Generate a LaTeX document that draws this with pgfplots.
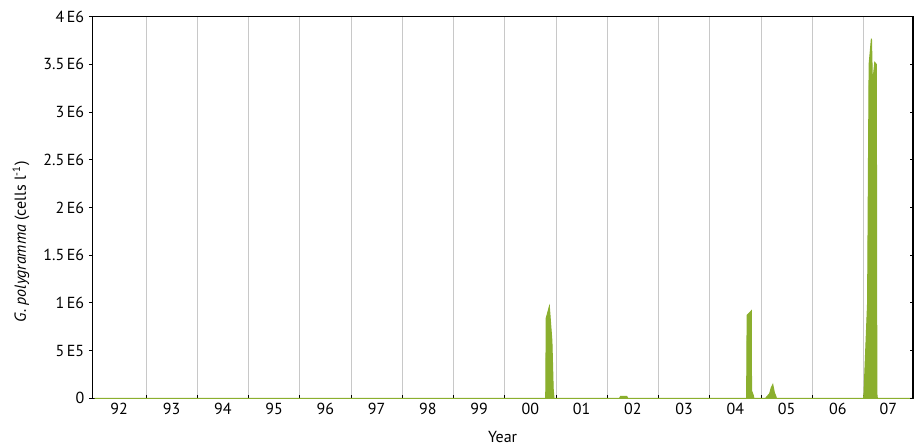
\documentclass[border=0pt]{standalone}
\usepackage{fontspec}
\setmainfont{PT Sans}
\usepackage{pgfplots}
\pgfplotsset{compat=1.18}
\definecolor{gpgreen}{RGB}{139,175,46}
\definecolor{gridgray}{RGB}{200,200,200}

\begin{document}
\begin{tikzpicture}
\begin{axis}[
    name=ax,
    scale only axis,
    width=615.5pt,
    height=286.2pt,
    font=\fontsize{12}{14}\selectfont,
    xmin=1991.952, xmax=2007.966,
    ymin=0, ymax=4e6,
    scaled y ticks=false,
    xtick={1993,...,2007},
    xticklabels={},
    xtick pos=lower,
    xtick align=inside,
    extra x ticks={1992.476,1993.5,1994.5,1995.5,1996.5,1997.5,1998.5,1999.5,2000.5,2001.5,2002.5,2003.5,2004.5,2005.5,2006.5,2007.483},
    extra x tick labels={92,93,94,95,96,97,98,99,00,01,02,03,04,05,06,07},
    extra x tick style={major tick length=0pt, grid=none},
    xmajorgrids=true,
    grid style={gridgray, line width=0.6pt},
    ytick={0,5e5,1e6,1.5e6,2e6,2.5e6,3e6,3.5e6,4e6},
    yticklabels={0,5\,E5,1\,E6,1.5\,E6,2\,E6,2.5\,E6,3\,E6,3.5\,E6,4\,E6},
    ytick pos=left,
    ytick align=outside,
    major tick length=2.5pt,
    tick style={black, line width=0.6pt},
    axis line style={line width=0.8pt},
    xlabel={Year},
    xlabel style={at={(axis description cs:0.5,0)}, anchor=center, yshift=-29pt},
    ylabel={\textit{G. polygramma} (cells l\textsuperscript{-1})},
    ylabel style={at={(axis description cs:0,0.41)}, anchor=center, yshift=53.5pt},
]
\addplot[draw=gpgreen, fill=gpgreen, line width=0.8pt] coordinates {
    (1992,0) (2000.80,0) (2000.81,0.84e6) (2000.84,0.90e6) (2000.87,0.96e6)
    (2000.92,0.60e6) (2000.945,0.10e6) (2000.96,0)
    (2002.24,0) (2002.26,0.02e6) (2002.38,0.02e6) (2002.40,0)
    (2004.72,0) (2004.73,0.87e6) (2004.81,0.915e6) (2004.815,0.08e6)
    (2004.85,0.03e6) (2004.86,0)
    (2005.09,0) (2005.17,0.05e6) (2005.20,0.11e6) (2005.23,0.143e6)
    (2005.26,0.06e6) (2005.29,0.02e6) (2005.30,0)
    (2007.00,0) (2007.01,0.05e6) (2007.08,1.0e6) (2007.11,3.5e6)
    (2007.155,3.77e6) (2007.175,3.28e6) (2007.22,3.52e6) (2007.25,3.50e6)
    (2007.26,0.05e6) (2007.27,0) (2007.966,0)
} \closedcycle;
\end{axis}
% right-hand ticks point inwards
\begin{axis}[
    scale only axis,
    width=615.5pt,
    height=286.2pt,
    xmin=1991.952, xmax=2007.966,
    ymin=0, ymax=4e6,
    scaled y ticks=false,
    hide x axis,
    axis y line*=right,
    ytick={0,5e5,1e6,1.5e6,2e6,2.5e6,3e6,3.5e6,4e6},
    yticklabels={},
    ytick align=inside,
    major tick length=2.5pt,
    tick style={black, line width=0.6pt},
    axis line style={line width=0.8pt},
]
\end{axis}
\pgfresetboundingbox
\path[use as bounding box] ([xshift=-69.2pt,yshift=-36.5pt]ax.south west) rectangle ([xshift=6pt,yshift=12.5pt]ax.north east);
\end{tikzpicture}
\end{document}
